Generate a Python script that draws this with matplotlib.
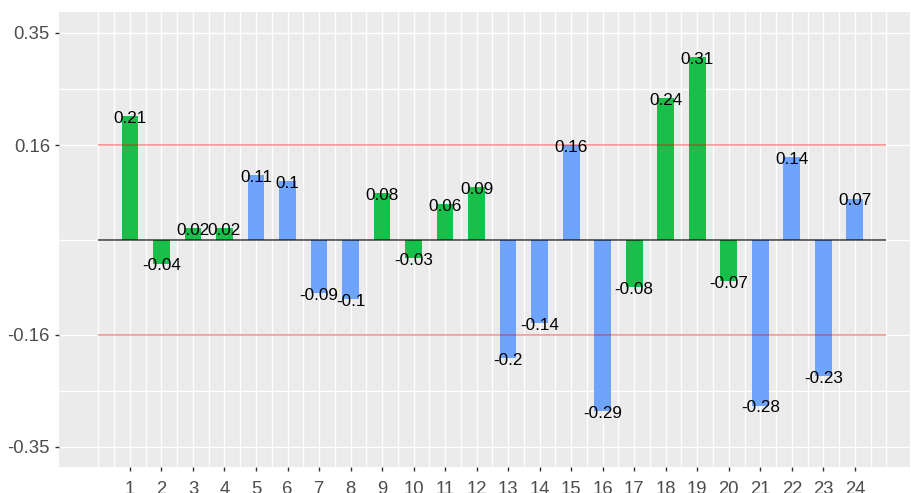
import matplotlib.pyplot as plt
import numpy as np

# valeurs des barres
positions = list(range(1, 25))
valeurs = [0.21, -0.04, 0.02, 0.02, 0.11, 0.1, -0.09, -0.1,
           0.08, -0.03, 0.06, 0.09, -0.2, -0.14, 0.16, -0.29,
           -0.08, 0.24, 0.31, -0.07, -0.28, 0.14, -0.23, 0.07]
groupes = ['g', 'g', 'g', 'g', 'b', 'b', 'b', 'b',
           'g', 'g', 'g', 'g', 'b', 'b', 'b', 'b',
           'g', 'g', 'g', 'g', 'b', 'b', 'b', 'b']
yticks = [-0.35, -0.16, 0.16, 0.35]
yminor = [-0.255, 0, 0.255]
seuil = 0.16

couleurs = {'g': '#18BF4A', 'b': '#6FA4FD'}

plt.rcParams['font.family'] = ['Liberation Sans', 'DejaVu Sans']

fig = plt.figure(figsize=(9.12, 4.93), dpi=100)
ax = fig.add_axes([59 / 912, 1 - 466.7 / 493, (910 - 59) / 912, (466.7 - 12) / 493])
ax.set_facecolor('#EBEBEB')
for s in ax.spines.values():
    s.set_visible(False)

# grille
for x in np.arange(0, 25.01, 0.5):
    ax.axvline(x, color='white', lw=1.0, zorder=0)
for y in yticks:
    ax.axhline(y, color='white', lw=1.0, zorder=0)
for y in yminor:
    ax.axhline(y, color='white', lw=1.0, zorder=0)

ax.bar(positions, valeurs, width=0.53, color=[couleurs[g] for g in groupes], zorder=2)

ax.hlines([seuil, -seuil], 0, 25, color='red', alpha=0.4, lw=1.2, zorder=3)
ax.hlines(0, 0, 25, color='black', alpha=0.7, lw=1.2, zorder=3)

for x, v in zip(positions, valeurs):
    ax.text(x, v - 0.004, f"{v:g}", ha='center', va='center', fontsize=12.3,
            color='black', zorder=4)

ax.set_xlim(-1.25, 25.75)
ax.set_ylim(-0.3835, 0.3855)
ax.set_xticks(positions)
ax.set_xticklabels([str(p) for p in positions])
ax.set_yticks(yticks)
ax.set_yticklabels(['-0.35', '-0.16', '0.16', '0.35'])
ax.tick_params(axis='both', colors='#333333', labelcolor='#4D4D4D', labelsize=13.3,
               length=3, width=1)
ax.tick_params(axis='x', pad=7.5)
ax.tick_params(axis='y', pad=3.5)

fig.savefig('out.png', dpi=100)
